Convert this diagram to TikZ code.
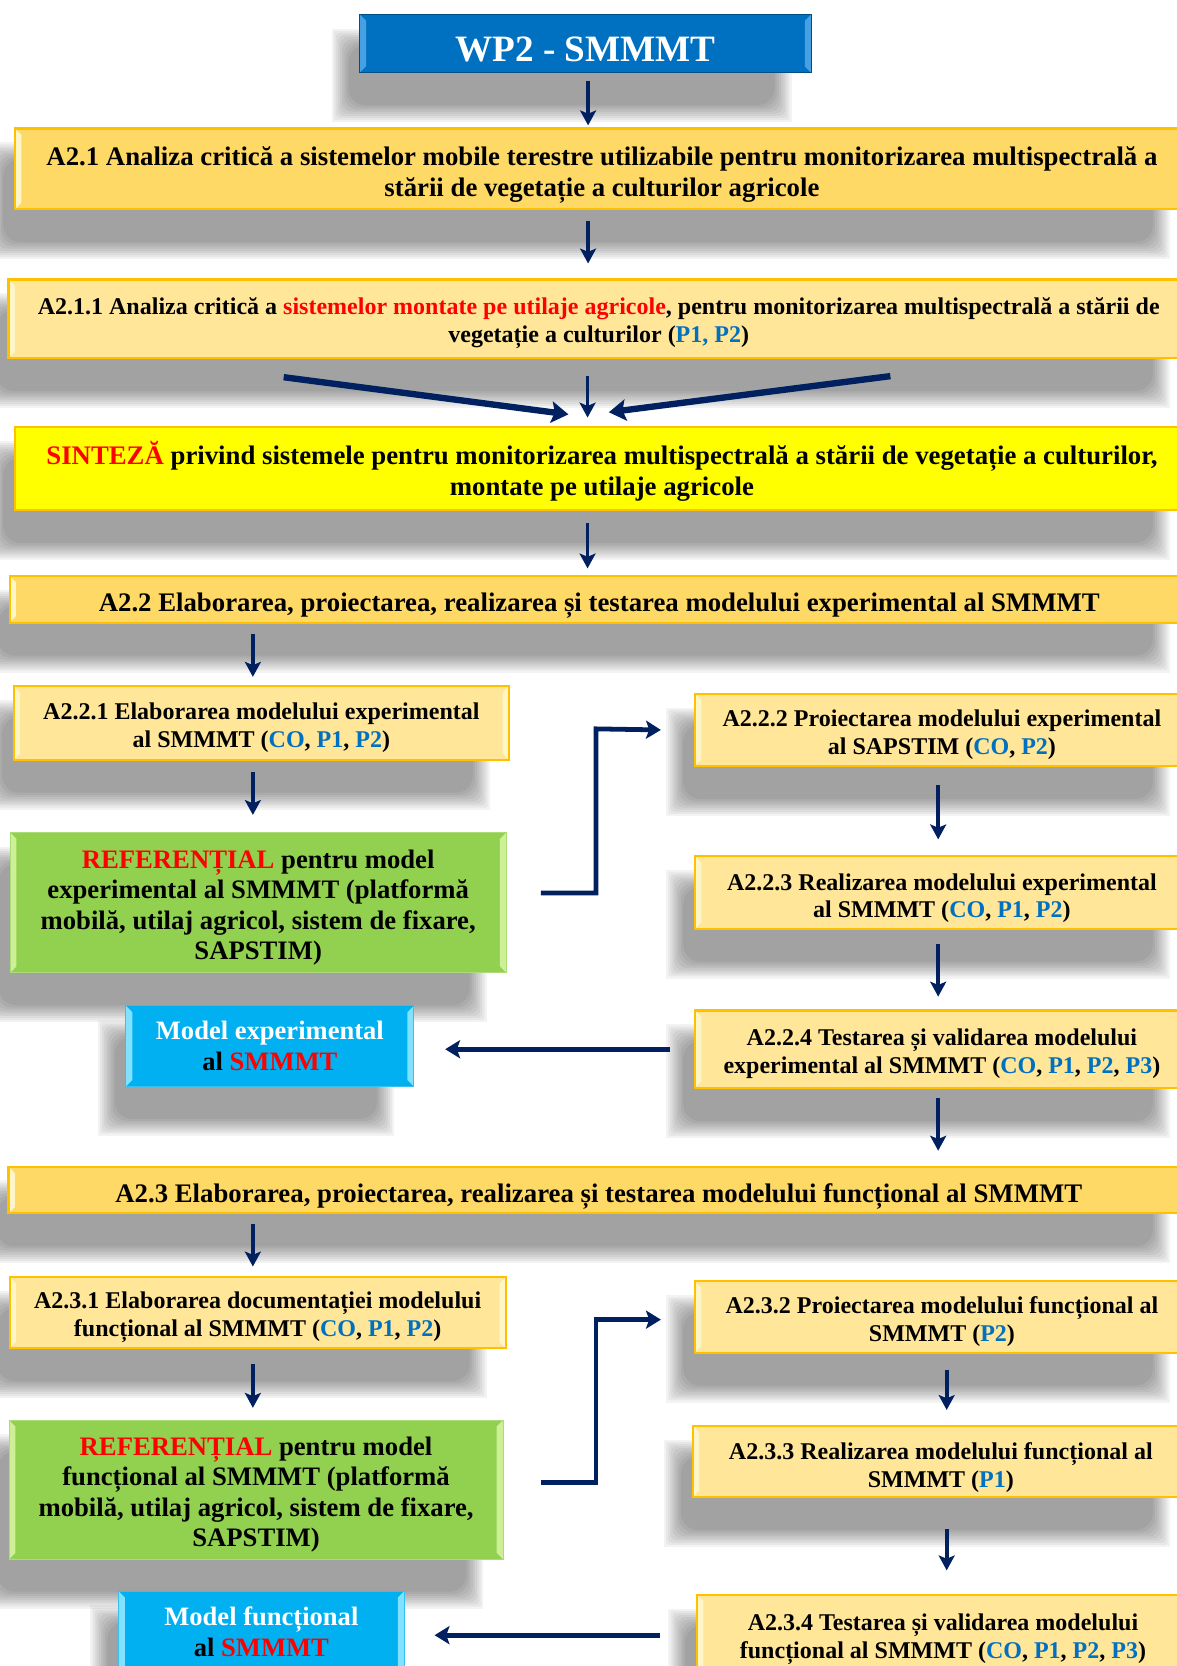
\documentclass[tikz,border=0pt]{standalone}
\usepackage{fontspec}
\setmainfont{Liberation Serif}
\usetikzlibrary{arrows.meta,calc}

\definecolor{wpblue}{RGB}{0,112,192}
\definecolor{wpbevel}{RGB}{70,160,225}
\definecolor{gold}{RGB}{255,217,102}
\definecolor{pale}{RGB}{255,230,153}
\definecolor{goldedge}{RGB}{255,192,0}
\definecolor{goldbevel}{RGB}{255,246,200}
\definecolor{synth}{RGB}{255,255,0}
\definecolor{leaf}{RGB}{146,208,80}
\definecolor{leafbevel}{RGB}{205,240,150}
\definecolor{leafedge}{RGB}{170,220,120}
\definecolor{sky}{RGB}{0,176,240}
\definecolor{skybevel}{RGB}{130,225,255}
\definecolor{navy}{RGB}{0,32,96}
\definecolor{pblue}{RGB}{0,112,192}
\definecolor{hot}{RGB}{255,0,0}

\newcommand{\pb}[1]{\textcolor{pblue}{#1}}
\newcommand{\hr}[1]{\textcolor{hot}{#1}}
% invisible strut on a first line: lowers the text block inside its box
\newcommand{\nudge}[1][4pt]{\rule{0pt}{\dimexpr 0.9em+#1\relax}}

\pgfdeclarelayer{shade}
\pgfsetlayers{shade,main}

% soft drop shadow under a node: stacked translucent rectangles
\newcommand{\dropshadow}[1]{%
  \foreach \r in {0,2,...,16}{%
    \fill[black,opacity=0.047,rounded corners=\r pt]
      ($(#1.north west)+(-10pt-16pt+\r pt,-30pt+16pt-\r pt)$) rectangle
      ($(#1.south east)+(-35pt+16pt-\r pt,-30pt-16pt+\r pt)$);}}

\begin{document}
\begin{tikzpicture}[x=1pt,y=-1pt,
  bevel/.style={path picture={
    \fill[#1] (path picture bounding box.north west) -- ++(6pt,-6pt)
      -- ($(path picture bounding box.south west)+(6pt,6pt)$)
      -- (path picture bounding box.south west) -- cycle;
    \fill[#1] (path picture bounding box.north east) -- ++(-6pt,-6pt)
      -- ($(path picture bounding box.south east)+(-6pt,6pt)$)
      -- (path picture bounding box.south east) -- cycle;}},
  box/.style={draw=goldedge, line width=2pt, inner sep=0pt, anchor=north west,
    align=center, font=\bfseries\fontsize{22.6}{26}\selectfont},
  widebox/.style={font=\bfseries\fontsize{25.2}{29}\selectfont},
  goldbox/.style={box, fill=gold, bevel=goldbevel},
  palebox/.style={box, fill=pale, bevel=goldbevel},
  synthbox/.style={box, fill=synth, bevel=synth},
  refbox/.style={box, draw=leafedge, line width=1pt, fill=leaf, bevel=leafbevel,
    font=\bfseries\fontsize{25.1}{28.7}\selectfont},
  modelbox/.style={box, draw=sky!80!white, line width=1pt, fill=sky, bevel=skybevel,
    text=white, font=\bfseries\fontsize{25}{29}\selectfont},
  arr/.style={draw=navy, line width=3.5pt,
    -{Stealth[length=14pt,width=15pt,inset=3pt]}},
  bigarr/.style={draw=navy, line width=6pt,
    -{Stealth[length=16pt,width=20pt,inset=3pt]}},
  elbow/.style={draw=navy, line width=4.5pt,
    -{Stealth[length=14pt,width=17pt,inset=3pt]}}
]
\useasboundingbox (0,0) rectangle (1107,1568);

% title
\node[box, draw=wpblue!70!black, line width=1pt, fill=wpblue, bevel=wpbevel,
  text=white, minimum width=425pt, minimum height=55pt,
  font=\bfseries\fontsize{35}{40}\selectfont] (wp) at (338,13) {\nudge[2pt]WP2 - SMMMT};

% activity A2.1
\node[goldbox, widebox, minimum width=1105pt, minimum height=76pt] (a21) at (13,120)
  {\nudge[7pt]A2.1 Analiza critică a sistemelor mobile terestre utilizabile pentru monitorizarea multispectrală a\\
   stării de vegetație a culturilor agricole};

\node[palebox, minimum width=1111pt, minimum height=74pt] (a211) at (7,262)
  {\nudge A2.1.1 Analiza critică a \hr{sistemelor montate pe utilaje agricole}, pentru monitorizarea multispectrală a stării de\\
   vegetație a culturilor (\pb{P1, P2})};

\node[synthbox, widebox, minimum width=1105pt, minimum height=78pt] (sint) at (13,401)
  {\nudge\hr{SINTEZĂ} privind sistemele pentru monitorizarea multispectrală a stării de vegetație a culturilor,\\
   montate pe utilaje agricole};

% activity A2.2
\node[goldbox, widebox, minimum width=1110pt, minimum height=44pt] (a22) at (8,541)
  {\nudge[7pt]A2.2 Elaborarea, proiectarea, realizarea și testarea modelului experimental al SMMMT};

\node[palebox, minimum width=466pt, minimum height=69pt] (a221) at (12,645)
  {\nudge A2.2.1 Elaborarea modelului experimental\\ al SMMMT (\pb{CO}, \pb{P1}, \pb{P2})};

\node[palebox, minimum width=465pt, minimum height=68pt] (a222) at (653,652)
  {\nudge A2.2.2 Proiectarea modelului experimental\\ al SAPSTIM (\pb{CO}, \pb{P2})};

\node[refbox, minimum width=467pt, minimum height=132pt] (ref1) at (9,783)
  {\nudge\hr{REFERENȚIAL} pentru model\\ experimental al SMMMT (platformă\\
   mobilă, utilaj agricol, sistem de fixare,\\ SAPSTIM)};

\node[palebox, minimum width=465pt, minimum height=68pt] (a223) at (653,805)
  {\nudge[6pt]A2.2.3 Realizarea modelului experimental\\ al SMMMT (\pb{CO}, \pb{P1}, \pb{P2})};

\node[modelbox, minimum width=271pt, minimum height=76pt] (mod1) at (118,946)
  {Model experimental\\ \textcolor{black}{al} \hr{SMMMT}};

\node[palebox, minimum width=465pt, minimum height=73pt] (a224) at (653,950)
  {\nudge A2.2.4 Testarea și validarea modelului\\
   experimental al SMMMT (\pb{CO}, \pb{P1}, \pb{P2}, \pb{P3})};

% activity A2.3
\node[goldbox, widebox, minimum width=1111pt, minimum height=44pt] (a23) at (7,1097)
  {\nudge[7pt]A2.3 Elaborarea, proiectarea, realizarea și testarea modelului funcțional al SMMMT};

\node[palebox, minimum width=467pt, minimum height=67pt] (a231) at (8,1201)
  {\nudge A2.3.1 Elaborarea documentației modelului\\ funcțional al SMMMT (\pb{CO}, \pb{P1}, \pb{P2})};

\node[palebox, minimum width=465pt, minimum height=67pt] (a232) at (653,1205)
  {\nudge A2.3.2 Proiectarea modelului funcțional al\\ SMMMT (\pb{P2})};

\node[refbox, minimum width=465pt, minimum height=131pt] (ref2) at (8,1336)
  {\nudge\hr{REFERENȚIAL} pentru model\\ funcțional al SMMMT (platformă\\
   mobilă, utilaj agricol, sistem de fixare,\\ SAPSTIM)};

\node[palebox, minimum width=467pt, minimum height=67pt] (a233) at (651,1341)
  {\nudge[7pt]A2.3.3 Realizarea modelului funcțional al\\ SMMMT (\pb{P1})};

\node[modelbox, minimum width=269pt, minimum height=77pt] (mod2) at (111,1497)
  {Model funcțional\\ \textcolor{black}{al} \hr{SMMMT}};

\node[palebox, minimum width=463pt, minimum height=75pt] (a234) at (655,1500)
  {\nudge A2.3.4 Testarea și validarea modelului\\
   funcțional al SMMMT (\pb{CO}, \pb{P1}, \pb{P2}, \pb{P3})};

% shadows behind every box
\begin{pgfonlayer}{shade}
  \fill[white] (0,0) rectangle (1107,1568);
  \foreach \n in {wp,a21,a211,sint,a22,a221,a222,ref1,a223,mod1,a224,
                  a23,a231,a232,ref2,a233,mod2,a234}{\dropshadow{\n}}
\end{pgfonlayer}

% vertical flow
\draw[arr] ([xshift=2.5pt,yshift=-7pt]wp.south) -- ([xshift=2.5pt,yshift=2pt]wp.south |- a21.north);
\draw[arr] ([yshift=-10pt]a21.south -| wp.south) ++(2.5pt,0) -- ([xshift=2.5pt,yshift=14pt]wp.south |- a211.north);

% three arrows converging on the synthesis
\coordinate (cl) at (267,355);
\coordinate (cr) at (838,354);
\draw[bigarr] (cl) -- (535,390);
\draw[arr] ([yshift=-16pt]a211.south -| 553,0) -- ([yshift=8pt]sint.north -| 553,0);
\draw[bigarr] (cr) -- (573,388);

\draw[arr] ([yshift=-11pt]sint.south -| 553,0) -- ([yshift=6pt]a22.north -| 553,0);

% experimental model branch
\draw[arr] ([yshift=-10pt]a22.south -| 238,0) -- ([yshift=8pt]a221.north -| 238,0);
\draw[arr] ([yshift=-11pt]a221.south -| 238,0) -- ([yshift=16pt]ref1.north -| 238,0);
\draw[elbow] ([xshift=32pt,yshift=9pt]ref1.east) -| (561,686) -- ([xshift=-31pt]a222.west);
\draw[arr] ([yshift=-17pt]a222.south -| 883,0) -- ([yshift=15pt]a223.north -| 883,0);
\draw[arr] ([yshift=-13pt]a223.south -| 883,0) -- ([yshift=12pt]a224.north -| 883,0);
\draw[elbow] ([xshift=-22pt]a224.west) -- ([xshift=29pt]mod1.east |- a224.west);
\draw[arr] ([yshift=-8pt]a224.south -| 883,0) -- ([yshift=14pt]a23.north -| 883,0);

% functional model branch
\draw[arr] ([yshift=-9pt]a23.south -| 238,0) -- ([yshift=9pt]a231.north -| 238,0);
\draw[arr] ([yshift=-14pt]a231.south -| 238,0) -- ([yshift=11pt]ref2.north -| 238,0);
\draw[elbow] ([xshift=35pt,yshift=6.5pt]ref2.east) -| (561,1242) -- ([xshift=-31pt]a232.west |- 0,1242);
\draw[arr] ([yshift=-15pt]a232.south -| 891,0) -- ([yshift=14pt]a233.north -| 891,0);
\draw[arr] ([yshift=-29pt]a233.south -| 891,0) -- ([yshift=22pt]a234.north -| 891,0);
\draw[elbow] ([xshift=-34pt]a234.west |- 0,1539) -- ([xshift=28pt]mod2.east |- 0,1539);
\end{tikzpicture}
\end{document}
